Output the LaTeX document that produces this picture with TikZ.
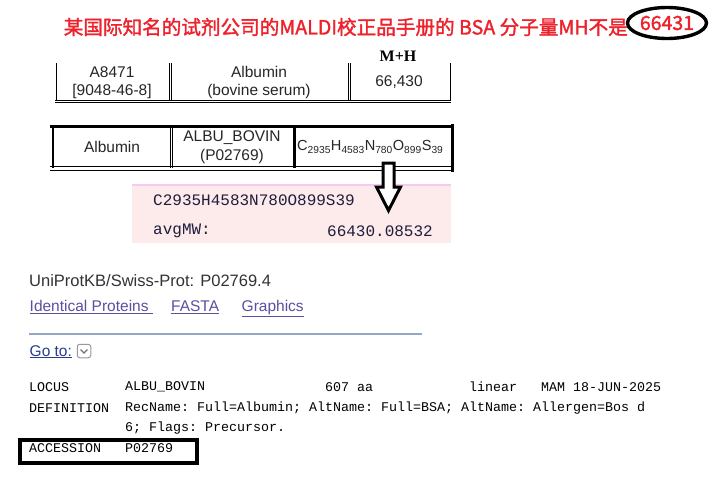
\documentclass[tikz,border=0pt]{standalone}
\usepackage{fontspec}
\setmainfont{Liberation Sans}
\setmonofont{Liberation Mono}
\newfontfamily\cjk[FakeBold=1.6]{Noto Sans CJK SC}
\newfontfamily\serifbold{Liberation Serif}
\usetikzlibrary{shapes.geometric}

\definecolor{titlered}{RGB}{238,34,44}
\definecolor{pinkbg}{RGB}{253,234,234}
\definecolor{pinkedge}{RGB}{246,200,246}
\definecolor{linkpurple}{RGB}{92,78,160}
\definecolor{goblue}{RGB}{40,60,145}
\definecolor{rulegray}{RGB}{148,168,198}
\definecolor{darktext}{RGB}{51,51,51}
\definecolor{seqtext}{RGB}{30,30,60}

\begin{document}
\begin{tikzpicture}[x=1pt,y=-1pt,
  cell/.style={font=\fontsize{15.5}{18}\selectfont,text=black!85,inner sep=0pt},
  mono/.style={font=\ttfamily\fontsize{13.33}{16}\selectfont,anchor=west,inner sep=0pt},
  seq/.style={font=\ttfamily\fontsize{16}{19}\selectfont,text=seqtext,inner sep=0pt},
  link/.style={font=\fontsize{15.5}{18}\selectfont,text=linkpurple,anchor=base west,inner sep=0pt},
  thin frame/.style={line width=0.9pt},
  thick frame/.style={line width=2.6pt}]

  \fill[white] (0,0) rectangle (724,485);
  \useasboundingbox (0,0) rectangle (724,485);

  % title
  \node[draw,ellipse,line width=3.4pt,minimum width=79,minimum height=31,inner sep=0pt,
    font=\cjk\fontsize{19.5}{24}\selectfont,text=titlered] (mh) at (667,23) {66431};
  \node[anchor=east,inner sep=0pt,font=\cjk\fontsize{19.6}{24}\selectfont,text=titlered]
    (title) at (628,27) {某国际知名的试剂公司的MALDI校正品手册的 BSA 分子量MH不是};

  % catalogue table
  \draw[thin frame] (56,63) -- (56,101) (169,63) -- (169,101) (171,63) -- (171,101)
    (348,63) -- (348,101) (350.5,63) -- (350.5,101) (450,63) -- (450,101);
  \draw[thin frame] (55,100) -- (451,100) (55,102.5) -- (451,102.5);
  \node[font=\serifbold\bfseries\fontsize{16}{19}\selectfont,inner sep=0pt] (mhhead) at (398,56) {M+H};
  \node[cell] (cat) at (112,72) {A8471};
  \node[cell] (cas) at (112,91) {[9048-46-8]};
  \node[cell] (name) at (259,72) {Albumin};
  \node[cell] (src) at (259,91) {(bovine serum)};
  \node[cell] (mass) at (399,82) {66,430};

  % formula table
  \draw[thick frame] (50,126.5) -- (454,126.5);
  \draw[line width=2.2pt] (53,126) -- (53,168);
  \draw[line width=1pt] (170,126) -- (170,168);
  \draw[line width=1.2pt] (172.5,126) -- (172.5,168);
  \draw[line width=2.6pt] (294.5,126) -- (294.5,168);
  \draw[line width=3.6pt] (452.5,124) -- (452.5,172);
  \draw[line width=1.6pt] (50,166.5) -- (453,166.5);
  \draw[line width=1pt] (50,170) -- (453,170);
  \node[cell] (prot) at (112,147) {Albumin};
  \node[cell] (entry) at (232,138) {ALBU\_BOVIN};
  \node[cell] (accno) at (232,156) {(P02769)};
  \node[cell,anchor=west,font=\fontsize{14.6}{18}\selectfont] (formula) at (297,147)
    {C\textsubscript{2935}H\textsubscript{4583}N\textsubscript{780}O\textsubscript{899}S\textsubscript{39}};

  % calculator result
  \fill[pinkbg] (132,184) rectangle (451,243);
  \draw[pinkedge,line width=2pt] (132,184.5) -- (451,184.5);
  \node[seq,anchor=west] (seqformula) at (153,200) {C2935H4583N780O899S39};
  \node[seq,anchor=west] (avg) at (153,231) {avgMW:};
  \node[seq,anchor=east] (avgval) at (433,231) {66430.08532};

  % hollow arrow
  \draw[line width=3pt,fill=white,line join=miter]
    (383,163) -- (394,163) -- (394,187) -- (400.5,187) -- (388.5,210.5)
    -- (376.5,187) -- (383,187) -- cycle;

  % ncbi page
  \node[anchor=west,inner sep=0pt,font=\fontsize{16.5}{20}\selectfont,text=darktext]
    (db) at (29,281) {UniProtKB/Swiss-Prot: P02769.4};
  \node[link] (ident) at (29.5,311.5) {\underline{Identical Proteins\ }};
  \node[link] (fasta) at (171,311.5) {\underline{FASTA}};
  \node[link] (graph) at (241.5,311.5) {\underline{Graphics}};
  \draw[rulegray,line width=2pt] (29,333.5) -- (422,333.5);
  \node[link,text=goblue] (goto) at (29.5,356) {\underline{Go to:}};
  \node[draw=gray!80,line width=1pt,rounded corners=2.5pt,minimum size=13.5pt,inner sep=0pt] (gobox) at (84,351) {};
  \draw[gray!90!black,line width=1.1pt] ([shift={(-3.5,-1.5)}]gobox.center)
    -- ([shift={(0,2)}]gobox.center) -- ([shift={(3.5,-1.5)}]gobox.center);

  \node[mono] (locus) at (29,387) {LOCUS};
  \node[mono] (locusname) at (125,387) {ALBU\_BOVIN};
  \node[mono] (len) at (325,387) {607 aa};
  \node[mono] (topo) at (469,387) {linear};
  \node[mono] (date) at (541,387) {MAM 18-JUN-2025};
  \node[mono] (defn) at (29,408) {DEFINITION};
  \node[mono] (defval) at (125,408) {RecName: Full=Albumin; AltName: Full=BSA; AltName: Allergen=Bos d};
  \node[mono] (defmore) at (125,428) {6; Flags: Precursor.};
  \node[mono] (acc) at (29,448) {ACCESSION};
  \node[mono] (accval) at (125,448) {P02769};
  \draw[line width=4pt] (20,440) rectangle (197,463);

\end{tikzpicture}
\end{document}
